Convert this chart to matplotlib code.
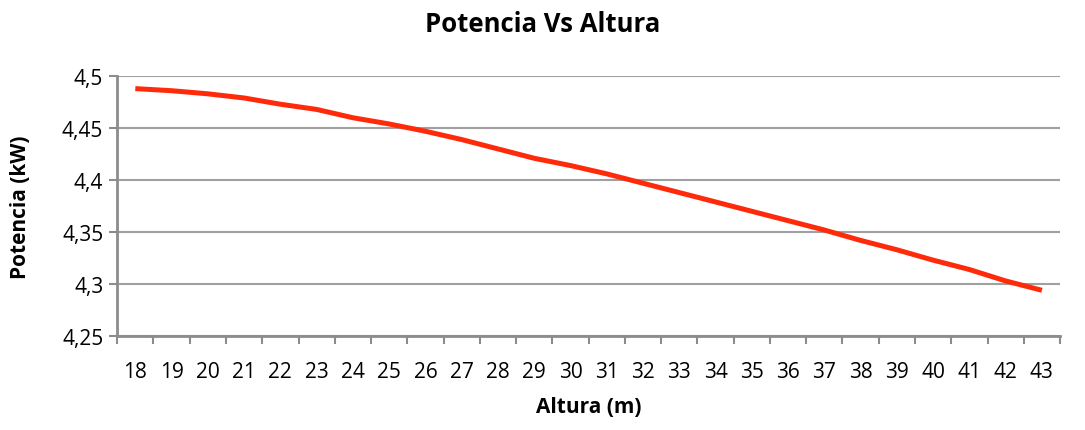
import numpy as np
import matplotlib
matplotlib.use("Agg")
import matplotlib.pyplot as plt

altura = list(range(18, 44))
potencia = [4.488, 4.486, 4.483, 4.479, 4.473, 4.468, 4.460, 4.454, 4.447, 4.439,
            4.430, 4.421, 4.414, 4.406, 4.397, 4.388, 4.379, 4.370, 4.361, 4.352,
            4.342, 4.333, 4.323, 4.314, 4.303, 4.294]
yticks = [4.25, 4.3, 4.35, 4.4, 4.45, 4.5]

plt.rcParams['font.family'] = ['Open Sans', 'DejaVu Sans']
grey = '#8c8c8c'

fig = plt.figure(figsize=(10.85, 4.31), dpi=100)
ax = fig.add_axes([0.108, 0.218, 0.869, 0.603])

x = np.arange(len(altura))
ax.plot(x, potencia, color='#ff2a0a', linewidth=3.6, solid_capstyle='butt')

ax.set_xlim(-0.5, len(altura) - 0.5)
ax.set_ylim(4.25, 4.5)
ax.set_yticks(yticks)
ax.set_yticklabels([f"{v:.2f}".rstrip('0').replace('.', ',') for v in yticks])
ax.set_xticks(x)
ax.set_xticklabels([str(a) for a in altura])
ax.set_xticks(np.arange(len(altura) + 1) - 0.5, minor=True)
ax.tick_params(axis='x', which='major', length=0, labelsize=15, pad=18)
ax.tick_params(axis='x', which='minor', length=6, width=1.5, color=grey, direction='out')
ax.tick_params(axis='y', length=6, width=1.5, color=grey, labelsize=15, pad=4)

ax.yaxis.grid(True, color='#a0a0a0', linewidth=1.5)
ax.set_axisbelow(True)
for s in ['top', 'right']:
    ax.spines[s].set_visible(False)
for s in ['left', 'bottom']:
    ax.spines[s].set_color(grey)
    ax.spines[s].set_linewidth(2)

ax.set_xlabel('Altura (m)', fontsize=15, fontweight='bold', labelpad=10)
ax.set_ylabel('Potencia (kW)', fontsize=15, fontweight='bold', labelpad=22)
fig.suptitle('Potencia Vs Altura', fontsize=18.5, fontweight='bold', y=0.975)

fig.savefig('out.png', dpi=100, facecolor='white')
